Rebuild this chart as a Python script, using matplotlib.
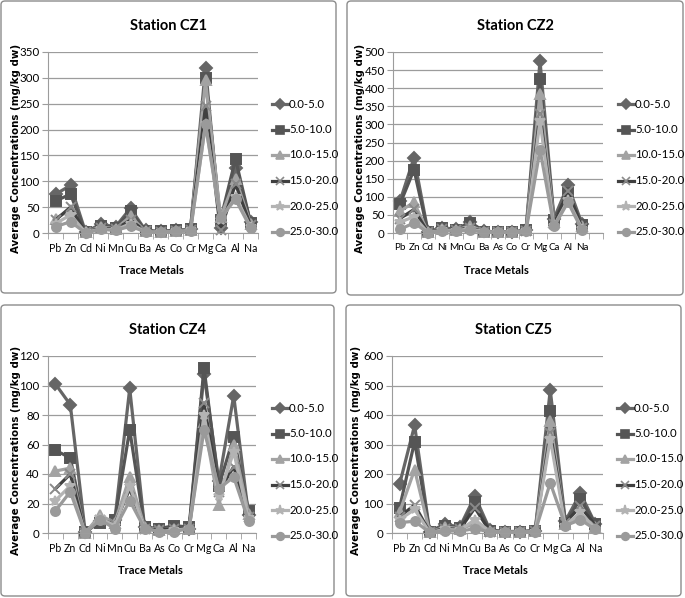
import numpy as np
import matplotlib
matplotlib.use("Agg")
import matplotlib.pyplot as plt
from matplotlib.patches import FancyBboxPatch

metals = ["Pb", "Zn", "Cd", "Ni", "Mn", "Cu", "Ba", "As", "Co", "Cr", "Mg", "Ca", "Al", "Na"]
depths = ["0.0-5.0", "5.0-10.0", "10.0-15.0", "15.0-20.0", "20.0-25.0", "25.0-30.0"]

cz1 = [
    [75, 92, 2, 17, 12, 48, 5, 3, 5, 7, 320, 10, 125, 22],
    [62, 75, 1, 14, 10, 42, 4, 3, 5, 7, 300, 25, 143, 20],
    [28, 45, 1, 12, 8, 32, 3, 2, 4, 6, 295, 30, 105, 18],
    [25, 50, 1, 10, 7, 25, 3, 2, 4, 5, 245, 5, 95, 15],
    [18, 35, 1, 8, 6, 18, 2, 2, 3, 5, 210, 25, 70, 12],
    [12, 22, 0, 7, 5, 13, 2, 2, 3, 4, 210, 30, 65, 10],
]
cz2 = [
    [88, 208, 3, 15, 10, 30, 5, 3, 3, 8, 475, 40, 132, 25],
    [80, 175, 2, 14, 9, 28, 4, 3, 3, 7, 425, 35, 110, 22],
    [60, 85, 2, 12, 8, 20, 4, 3, 3, 7, 385, 30, 100, 18],
    [40, 65, 2, 10, 7, 15, 3, 2, 2, 6, 330, 25, 115, 15],
    [30, 45, 1, 8, 6, 12, 3, 2, 2, 5, 310, 20, 90, 12],
    [10, 28, 1, 6, 5, 8, 2, 2, 2, 5, 230, 18, 85, 8],
]
cz4 = [
    [101, 87, 1, 8, 9, 98, 4, 2, 3, 3, 108, 35, 93, 12],
    [56, 51, 1, 7, 9, 70, 4, 3, 5, 4, 112, 32, 65, 15],
    [42, 44, 0, 12, 7, 38, 4, 2, 3, 3, 75, 19, 60, 13],
    [30, 40, 0, 9, 6, 30, 3, 2, 3, 3, 88, 28, 45, 11],
    [22, 32, 0, 10, 5, 32, 3, 1, 2, 3, 80, 25, 55, 10],
    [15, 28, 0, 9, 3, 22, 3, 1, 1, 3, 70, 30, 38, 8],
]
cz5 = [
    [165, 365, 5, 30, 20, 125, 10, 5, 5, 8, 485, 40, 135, 30],
    [85, 310, 4, 25, 18, 105, 8, 5, 5, 7, 415, 35, 115, 30],
    [70, 215, 3, 20, 15, 30, 6, 4, 4, 6, 380, 30, 60, 20],
    [55, 95, 3, 15, 12, 85, 5, 4, 4, 6, 340, 35, 90, 25],
    [45, 80, 2, 12, 10, 45, 5, 3, 3, 5, 320, 25, 70, 15],
    [35, 40, 2, 8, 6, 15, 3, 3, 3, 5, 170, 25, 45, 12],
]

# panel: title, data, y max, y step, n category slots, plot rect (px), box rect (px), ylabel x (px)
panels = [
    ("Station CZ1", cz1, 350, 50, 14, (48, 52, 258, 233), (1, 1, 336, 293), 16),
    ("Station CZ2", cz2, 500, 50, 15, (393, 52, 603, 233), (347, 1, 683, 295), 360),
    ("Station CZ4", cz4, 120, 20, 14, (48, 356, 256, 533), (1, 305, 334, 596), 16),
    ("Station CZ5", cz5, 600, 100, 14, (392, 356, 603, 533), (346, 305, 681, 596), 356),
]

styles = [
    dict(color="#666666", marker="D", ms=6, mfc="#666666", mec="#666666"),
    dict(color="#555555", marker="s", ms=7, mfc="#555555", mec="#555555"),
    dict(color="#a3a3a3", marker="^", ms=7, mfc="#a3a3a3", mec="#a3a3a3"),
    dict(color="#404040", marker="x", ms=6.5, mfc="none", mec="#8a8a8a"),
    dict(color="#b3b3b3", marker="*", ms=7.5, mfc="#b3b3b3", mec="#b3b3b3"),
    dict(color="#9a9a9a", marker="o", ms=6.5, mfc="#9a9a9a", mec="#9a9a9a"),
]

tick_font = "Lato"

W, H = 685, 598
fig = plt.figure(figsize=(W / 100, H / 100), dpi=100)

for title, data, ymax, ystep, nslots, (x0, y0, x1, y1), (bx0, by0, bx1, by1), ylx in panels:
    box = FancyBboxPatch((bx0 / W, 1 - by1 / H), (bx1 - bx0) / W, (by1 - by0) / H,
                         boxstyle="round,pad=0,rounding_size=0.006",
                         transform=fig.transFigure, fc="none", ec="#8c8c8c", lw=1.0, zorder=-5)
    fig.patches.append(box)

    ax = fig.add_axes([x0 / W, 1 - y1 / H, (x1 - x0) / W, (y1 - y0) / H], zorder=2)
    ax.set_facecolor("none")
    x = np.arange(len(metals))
    for vals, st in zip(data, styles):
        ax.plot(x, vals, lw=2.3, mew=1.4, clip_on=False, **st)

    ax.set_xlim(-0.5, nslots - 0.5)
    ax.set_ylim(0, ymax)
    ax.set_yticks(np.arange(0, ymax + 1, ystep))
    ax.grid(axis="y", color="#9c9c9c", lw=0.9)
    ax.set_axisbelow(True)
    ax.set_xticks(x)
    ax.set_xticklabels(metals, fontfamily=tick_font, fontsize=7.6 if nslots == 14 else 7.1)
    ax.set_xticks(np.arange(-0.5, nslots), minor=True)
    ax.tick_params(axis="x", which="major", length=0, pad=7)
    ax.tick_params(axis="x", which="minor", length=4, color="#9c9c9c")
    ax.tick_params(axis="y", length=4, color="#9c9c9c", pad=2)
    for lab in ax.get_yticklabels():
        lab.set_fontfamily(tick_font)
        lab.set_fontsize(8.3)
    for s in ("top", "right"):
        ax.spines[s].set_visible(False)
    for s in ("left", "bottom"):
        ax.spines[s].set_color("#9c9c9c")

    cx = (bx0 + bx1) / 2
    fig.text(cx / W, 1 - 25 / H - by0 / H, title, ha="center", va="center",
             fontfamily="Lato", fontweight="bold", fontsize=10.5)
    fig.text((x0 + x1) / 2 / W - 0.003, 1 - (y1 + 38) / H, "Trace Metals", ha="center", va="center",
             fontfamily="Lato", fontweight="bold", fontsize=8)
    fig.text(ylx / W, 1 - (y0 + y1) / 2 / H - 0.01, "Average Concentrations (mg/kg dw)",
             rotation=90, ha="center", va="center", fontweight="bold", fontsize=7.4)

    # legend drawn at the right of each panel
    lx = bx0 + 271
    for i, (name, st) in enumerate(zip(depths, styles)):
        ly = y0 + 52 + i * 25.5
        fig.add_artist(plt.Line2D([lx / W, (lx + 16) / W], [1 - ly / H, 1 - ly / H], lw=2.3,
                                  color=st["color"], transform=fig.transFigure))
        fig.add_artist(plt.Line2D([(lx + 8) / W], [1 - ly / H], lw=0, marker=st["marker"],
                                  ms=st["ms"] - 1, mfc=st["mfc"], mec=st["mec"], mew=1.2,
                                  transform=fig.transFigure))
        fig.text((lx + 17) / W, 1 - ly / H, name, ha="left", va="center",
                 fontfamily=tick_font, fontsize=8.2)

fig.savefig("out.png", dpi=100, facecolor="white")
